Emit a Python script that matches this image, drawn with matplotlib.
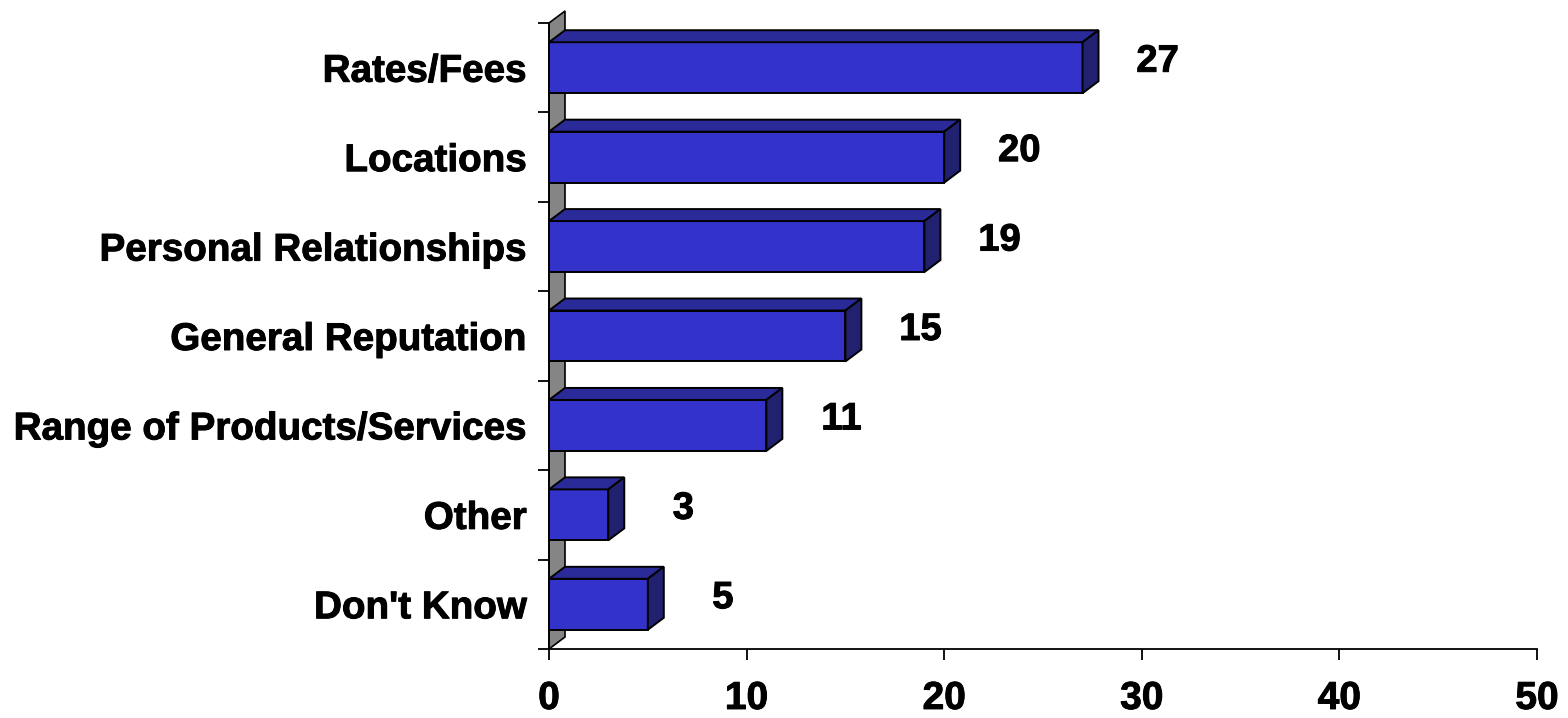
import matplotlib.pyplot as plt
import matplotlib.patheffects as pe
from matplotlib.patches import Polygon

plt.rcParams['font.family'] = ['Liberation Sans', 'DejaVu Sans']
plt.rcParams['font.weight'] = 'bold'

categories = ['Rates/Fees', 'Locations', 'Personal Relationships', 'General Reputation',
              'Range of Products/Services', 'Other', "Don't Know"]
values = [27, 20, 19, 15, 11, 3, 5]
xticks = [0, 10, 20, 30, 40, 50]

front_col = '#3333CC'
top_col = '#2A2A99'
side_col = '#21216F'
wall_col = '#858585'

# a thin outline makes the bold text a bit heavier
heavy = [pe.withStroke(linewidth=0.7, foreground='black')]

fig = plt.figure(figsize=(15.68, 7.18), dpi=100)
ax = fig.add_axes([549/1568, 69/718, 988/1568, 626/718])
ax.set_xlim(0, 50)
ax.set_ylim(-0.5, len(categories) - 0.5)

# depth of the fake 3d effect, in data units
dx = 16 / 19.76
dy = 12 / 89.4
bar_h = 0.57

# grey back wall
wall = Polygon([(0, -0.5), (dx, -0.5 + dy), (dx, len(categories) - 0.5 + dy),
                (0, len(categories) - 0.5)], closed=True, facecolor=wall_col,
               edgecolor='black', linewidth=1.2, clip_on=False, zorder=1)
ax.add_patch(wall)

n = len(categories)
for i, (cat, v) in enumerate(zip(categories, values)):
    y = n - 1 - i
    y0, y1 = y - bar_h / 2, y + bar_h / 2
    front = Polygon([(0, y0), (v, y0), (v, y1), (0, y1)], closed=True,
                    facecolor=front_col, edgecolor='black', linewidth=1.4, clip_on=False, zorder=3)
    top = Polygon([(0, y1), (v, y1), (v + dx, y1 + dy), (dx, y1 + dy)], closed=True,
                  facecolor=top_col, edgecolor='black', linewidth=1.4, clip_on=False, zorder=3)
    side = Polygon([(v, y0), (v + dx, y0 + dy), (v + dx, y1 + dy), (v, y1)], closed=True,
                   facecolor=side_col, edgecolor='black', linewidth=1.4, clip_on=False, zorder=3)
    for p in (front, top, side):
        ax.add_patch(p)
    ax.text(v + 3.8, y + dy / 2, str(v), ha='center', va='center',
            fontsize=27.5, fontweight='bold', zorder=4, path_effects=heavy)

# category boundaries get the tick marks, centres get the labels
ax.set_yticks([k - 0.5 for k in range(n + 1)])
ax.set_yticklabels([])
ax.set_yticks(list(range(n)), minor=True)
ax.set_yticklabels(categories[::-1], minor=True, fontsize=27.8, fontweight='bold')
ax.tick_params(axis='y', which='major', length=8, width=1.3, direction='out')
ax.tick_params(axis='y', which='minor', length=0, pad=16)

ax.set_xticks(xticks)
ax.set_xticklabels([str(t) for t in xticks], fontsize=28, fontweight='bold')
ax.tick_params(axis='x', length=8, width=1.3, direction='out', pad=15)

for lab in ax.get_xticklabels() + ax.get_yticklabels(minor=True):
    lab.set_path_effects(heavy)

for s in ('top', 'right'):
    ax.spines[s].set_visible(False)
ax.spines['bottom'].set_linewidth(1.3)
ax.spines['left'].set_linewidth(1.3)
ax.set_facecolor('none')

fig.savefig('out.png', dpi=100)
